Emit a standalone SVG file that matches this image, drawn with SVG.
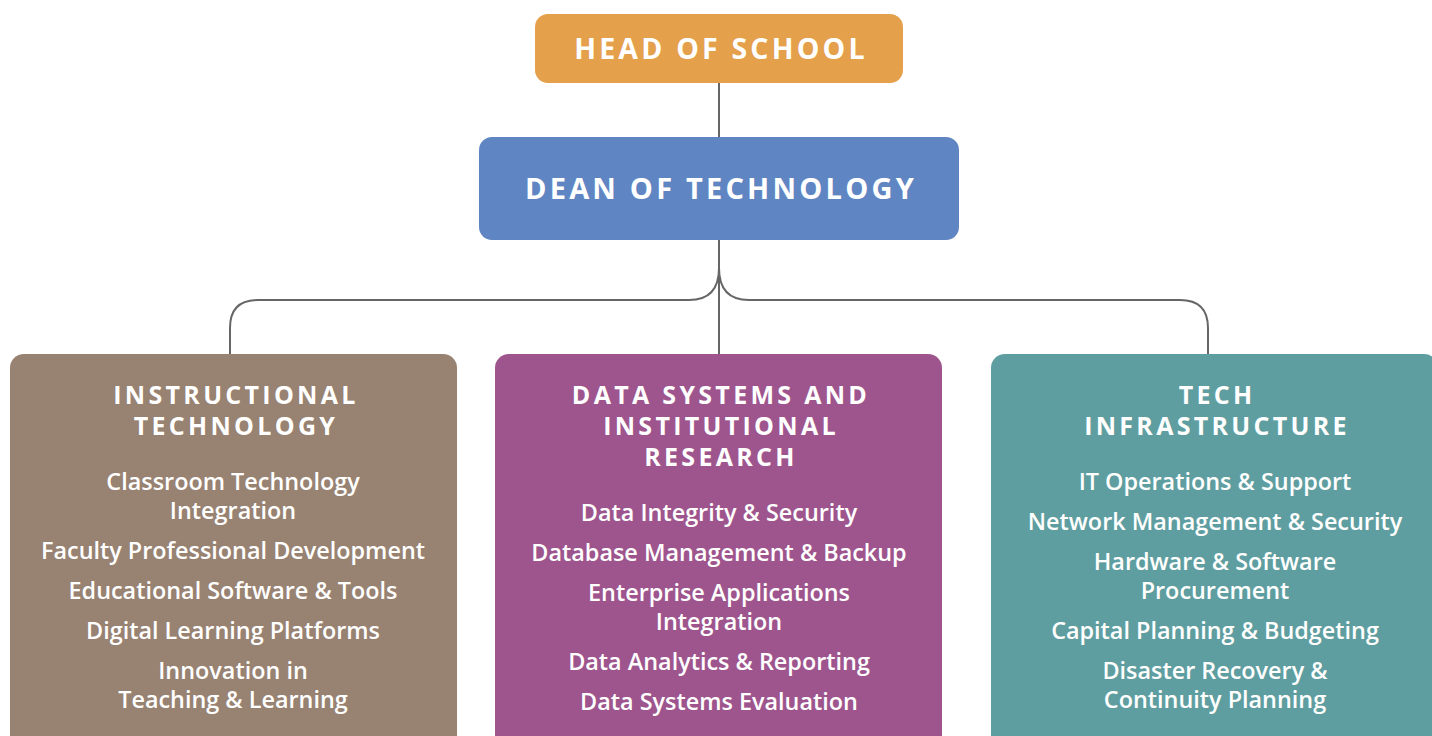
<svg xmlns="http://www.w3.org/2000/svg" width="1432" height="736" viewBox="0 0 1432 736">
  <style>
    .box { stroke: none; }
    .top { font-family: "Open Sans", "Liberation Sans", sans-serif; font-weight: 700; fill: #ffffff; text-anchor: middle; letter-spacing: 3.2px; }
    .title { font-family: "Open Sans", "Liberation Sans", sans-serif; font-weight: 700; font-size: 25px; fill: #ffffff; text-anchor: middle; letter-spacing: 3.3px; }
    .item { font-family: "Open Sans", "Liberation Sans", sans-serif; font-weight: 600; font-size: 23.4px; fill: #ffffff; text-anchor: middle; }
    .link { fill: none; stroke: #666666; stroke-width: 2; }
  </style>
  <rect width="1432" height="736" fill="#ffffff"/>

  <!-- connectors -->
  <g id="connectors">
    <path class="link" d="M719,83 V137"/>
    <path class="link" d="M719,240 V354"/>
    <path class="link" d="M719,268 Q719,300 689,300 H258 Q230,300 230,328 V354"/>
    <path class="link" d="M719,268 Q719,300 749,300 H1180 Q1208,300 1208,328 V354"/>
  </g>

  <g id="head-of-school">
    <rect class="box" x="535" y="14" width="368" height="69" rx="13" fill="#E5A04B"/>
    <text class="top" x="721" y="59" font-size="28.5">HEAD OF SCHOOL</text>
  </g>

  <g id="dean-of-technology">
    <rect class="box" x="479" y="137" width="480" height="103" rx="13" fill="#5F86C3"/>
    <text class="top" x="721" y="199" font-size="29">DEAN OF TECHNOLOGY</text>
  </g>

  <g id="instructional-technology">
    <rect class="box" x="10" y="354" width="447" height="420" rx="14" fill="#988272"/>
    <text class="title" x="236" y="404">INSTRUCTIONAL</text>
    <text class="title" x="236" y="435">TECHNOLOGY</text>
    <text class="item" x="233" y="490">Classroom Technology</text>
    <text class="item" x="233" y="519">Integration</text>
    <text class="item" x="233" y="559">Faculty Professional Development</text>
    <text class="item" x="233" y="599">Educational Software &amp; Tools</text>
    <text class="item" x="233" y="639">Digital Learning Platforms</text>
    <text class="item" x="233" y="679">Innovation in</text>
    <text class="item" x="233" y="708">Teaching &amp; Learning</text>
  </g>

  <g id="data-systems">
    <rect class="box" x="495" y="354" width="447" height="420" rx="14" fill="#9E558D"/>
    <text class="title" x="721" y="404">DATA SYSTEMS AND</text>
    <text class="title" x="721" y="435">INSTITUTIONAL</text>
    <text class="title" x="721" y="466">RESEARCH</text>
    <text class="item" x="719" y="521">Data Integrity &amp; Security</text>
    <text class="item" x="719" y="561">Database Management &amp; Backup</text>
    <text class="item" x="719" y="601">Enterprise Applications</text>
    <text class="item" x="719" y="630">Integration</text>
    <text class="item" x="719" y="670">Data Analytics &amp; Reporting</text>
    <text class="item" x="719" y="710">Data Systems Evaluation</text>
  </g>

  <g id="tech-infrastructure">
    <rect class="box" x="991" y="354" width="447" height="420" rx="14" fill="#5F9EA0"/>
    <text class="title" x="1217" y="404">TECH</text>
    <text class="title" x="1217" y="435">INFRASTRUCTURE</text>
    <text class="item" x="1215" y="490">IT Operations &amp; Support</text>
    <text class="item" x="1215" y="530">Network Management &amp; Security</text>
    <text class="item" x="1215" y="570">Hardware &amp; Software</text>
    <text class="item" x="1215" y="599">Procurement</text>
    <text class="item" x="1215" y="639">Capital Planning &amp; Budgeting</text>
    <text class="item" x="1215" y="679">Disaster Recovery &amp;</text>
    <text class="item" x="1215" y="708">Continuity Planning</text>
  </g>
</svg>
